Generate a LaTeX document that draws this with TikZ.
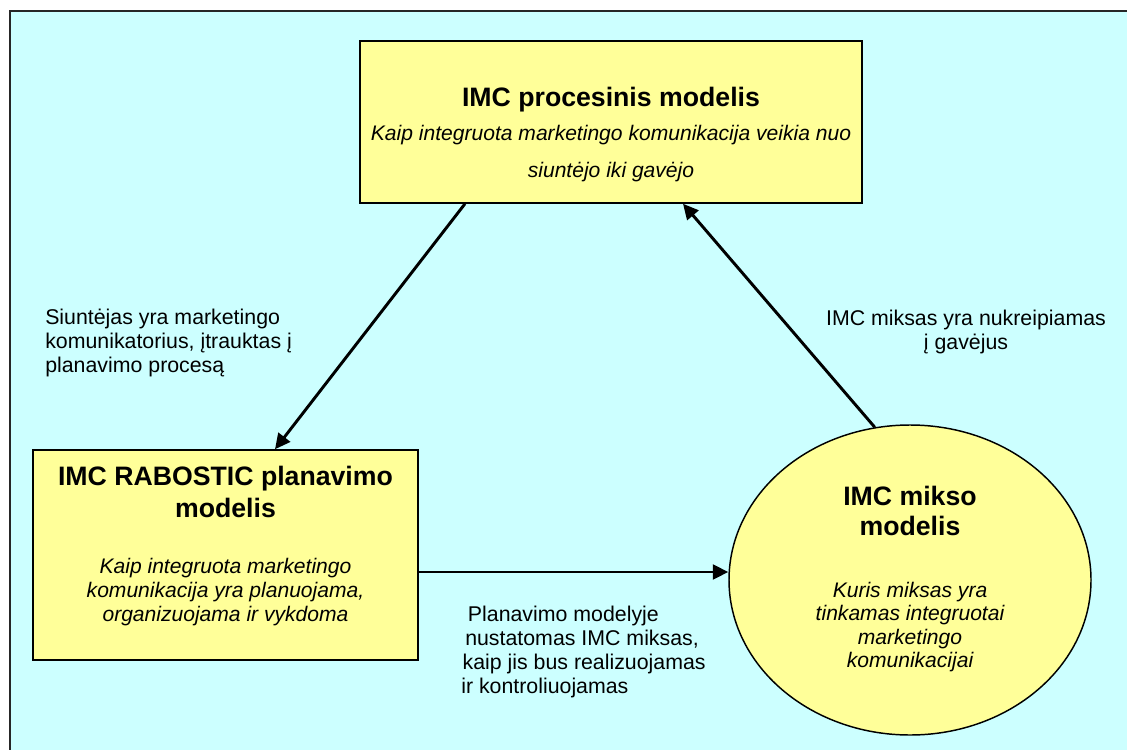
\documentclass[tikz,border=0pt]{standalone}
\usepackage{fontspec}
\setmainfont{Liberation Sans}
\usepackage{tikz}
\usetikzlibrary{arrows.meta,shapes.geometric}
\definecolor{bgcyan}{HTML}{CCFFFF}
\definecolor{boxyellow}{HTML}{FFFF99}

\begin{document}
\begin{tikzpicture}[x=0.75pt,y=-0.75pt,
  modelbox/.style={draw=black,line width=1.1pt,fill=boxyellow,inner sep=0pt},
  titletext/.style={font=\fontsize{20}{24}\selectfont\bfseries,align=center,inner sep=0pt},
  desctext/.style={font=\fontsize{15.8}{17.7}\selectfont\itshape,align=center,inner sep=0pt},
  labeltext/.style={font=\fontsize{16}{18}\selectfont,inner sep=0pt},
  flow/.style={line width=2.2pt,-{Triangle[length=11.5pt,width=11pt]}}]
\useasboundingbox (0,0) rectangle (1127,749);
% background panel
\fill[bgcyan] (10,11) rectangle (1140,760);
\draw[line width=1.5pt,black!85] (10,760) -- (10,11) -- (1140,11);

% the three models
\node[modelbox,rectangle,minimum width=376.5pt,minimum height=121.5pt] (proc) at (611,122) {};
\node[modelbox,rectangle,minimum width=288.75pt,minimum height=157.5pt] (plan) at (225.5,555) {};
\node[modelbox,ellipse,minimum width=271.5pt,minimum height=232.5pt] (mix) at (910,580) {};

\node[titletext] (proctitle) at (611,100) {IMC procesinis modelis};
\node[desctext,font=\fontsize{15.8}{27.75}\selectfont\itshape] (procdesc) at (611,154)
  {Kaip integruota marketingo komunikacija veikia nuo\\siuntėjo iki gavėjo};

\node[titletext] (plantitle) at (225.5,492) {IMC RABOSTIC planavimo\\modelis};
\node[desctext] (plandesc) at (225.5,592)
  {Kaip integruota marketingo\\komunikacija yra planuojama,\\organizuojama ir vykdoma};

\node[titletext,font=\fontsize{20}{22.5}\selectfont\bfseries] (mixtitle) at (910,511) {IMC mikso\\modelis};
\node[desctext] (mixdesc) at (910,627)
  {Kuris miksas yra\\tinkamas integruotai\\marketingo\\komunikacijai};

% connectors
\draw[flow] (proc.south -| 465,0) -- (plan.north -| 275,0);
\draw[flow] (plan.east |- 0,572) -- (mix.west |- 0,572);
\draw[flow] (mix.103) -- (proc.south -| 683,0);

\node[labeltext,anchor=west,align=left] (sendlabel) at (45,343)
  {Siuntėjas yra marketingo\\komunikatorius, įtrauktas į\\planavimo procesą};
\node[labeltext,align=center] (mixlabel) at (966,332)
  {IMC miksas yra nukreipiamas\\į gavėjus};
\node[labeltext,anchor=west,align=left] (planlabel) at (461,652)
  {\hspace{5pt}Planavimo modelyje\\\hspace{3pt}nustatomas IMC miksas,\\\hspace{1pt}kaip jis bus realizuojamas\\ir kontroliuojamas};
\end{tikzpicture}
\end{document}
